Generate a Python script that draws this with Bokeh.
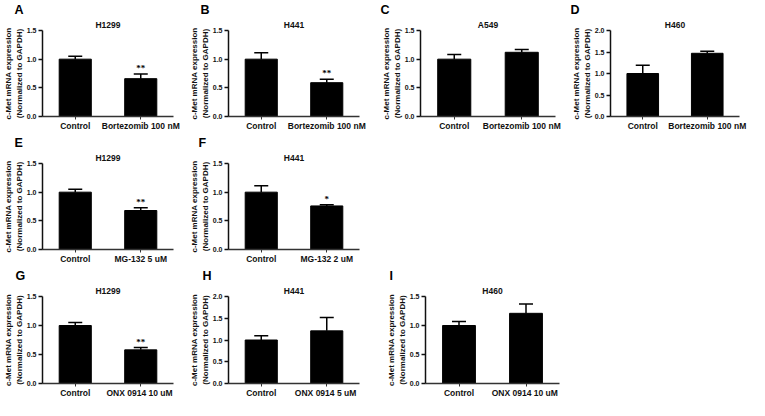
from bokeh.plotting import figure
from bokeh.layouts import column, row
from bokeh.models import (Range1d, FixedTicker, PrintfTickFormatter,
                          ColumnDataSource, Whisker, TeeHead, Title, LabelSet)
from bokeh.embed import file_html
from bokeh.resources import INLINE

# ---------------- data ----------------
panel_letters = ["A", "B", "C", "D", "E", "F", "G", "H", "I"]
cell_lines = ["H1299", "H441", "A549", "H460", "H1299", "H441", "H1299", "H441", "H460"]
control_label = "Control"
treatments = ["Bortezomib 100 nM", "Bortezomib 100 nM", "Bortezomib 100 nM", "Bortezomib 100 nM",
              "MG-132 5 uM", "MG-132 2 uM", "ONX 0914  10 uM", "ONX 0914  5 uM", "ONX 0914  10 uM"]
control_mean = [1.0, 1.0, 1.0, 1.0, 1.0, 1.0, 1.0, 1.0, 1.0]
control_err = [0.05, 0.11, 0.08, 0.19, 0.05, 0.11, 0.05, 0.10, 0.07]
treat_mean = [0.66, 0.59, 1.12, 1.47, 0.68, 0.76, 0.58, 1.21, 1.21]
treat_err = [0.08, 0.06, 0.05, 0.05, 0.05, 0.02, 0.04, 0.31, 0.16]
significance = ["**", "**", "", "", "**", "*", "**", "", ""]
y_max = [1.5, 1.5, 1.5, 2.0, 1.5, 1.5, 1.5, 2.0, 1.5]
y_ticks_15 = [0.0, 0.5, 1.0, 1.5]
y_ticks_20 = [0.0, 0.5, 1.0, 1.5, 2.0]
y_label = "c-Met mRNA expression\n(Normalized to GAPDH)"

# ---------------- layout (pixels) ----------------
# width, height, border right
geom = [
    (186, 133, 13), (192, 133, 19), (190, 133, 13), (181, 133, 10),
    (186, 133, 13), (192, 133, 19),
    (186, 134, 13), (197, 134, 24), (190, 134, 14),
]
letter_dx = [-28, -28, -40, -40, -28, -30, -27, -26, -36]

FONT = "Liberation Sans"


def make_panel(i):
    w, h, br = geom[i]
    names = [control_label, treatments[i]]
    # categories sit at the centres of unit-wide slots
    xs = [k + 0.5 for k in range(len(names))]
    p = figure(x_range=Range1d(0, len(names)), y_range=Range1d(0, y_max[i]),
               width=w, height=h, min_border_left=0, min_border_right=br,
               min_border_top=0, min_border_bottom=0,
               output_backend="svg", toolbar_location=None)
    p.outline_line_color = None
    p.xgrid.visible = False
    p.ygrid.visible = False
    p.background_fill_color = "white"
    p.border_fill_color = "white"

    # panel letter (outer title row) and cell line (title row next to the frame)
    p.title.text = panel_letters[i]
    p.title.align = "left"
    p.title.offset = letter_dx[i]
    p.title.standoff = 0
    p.title.text_font = FONT
    p.title.text_font_style = "bold"
    p.title.text_font_size = "12.5px"
    p.title.text_color = "black"
    p.add_layout(Title(text=cell_lines[i], align="center", standoff=2,
                       text_font=FONT, text_font_style="bold",
                       text_font_size="8.5px", text_color="#111111"), "above")

    src = ColumnDataSource(dict(
        x=xs,
        top=[control_mean[i], treat_mean[i]],
        upper=[control_mean[i] + control_err[i], treat_mean[i] + treat_err[i]],
    ))
    p.vbar(x="x", top="top", bottom=0, width=0.49, source=src,
           fill_color="black", line_color="black", line_width=1)
    wh = Whisker(source=src, base="x", lower="top", upper="upper", dimension="height",
                 line_color="black", line_width=1.5,
                 upper_head=TeeHead(size=14, line_color="black", line_width=1.5),
                 lower_head=None)
    p.add_layout(wh)

    if significance[i]:
        ssrc = ColumnDataSource(dict(x=[xs[1]],
                                     y=[treat_mean[i] + treat_err[i]],
                                     t=[significance[i]]))
        p.add_layout(LabelSet(x="x", y="y", text="t", source=ssrc, y_offset=1,
                              text_align="center", text_baseline="bottom",
                              text_font=FONT, text_font_style="bold",
                              text_font_size="9px", text_color="black"))

    # y axis
    ticks = y_ticks_20 if y_max[i] == 2.0 else y_ticks_15
    p.yaxis.ticker = FixedTicker(ticks=ticks)
    p.yaxis.formatter = PrintfTickFormatter(format="%.1f")
    p.yaxis.minor_tick_line_color = None
    p.yaxis.major_tick_out = 4
    p.yaxis.major_tick_in = 0
    p.yaxis.major_tick_line_width = 1.5
    p.yaxis.axis_line_width = 1.5
    p.yaxis.axis_line_color = "#111111"
    p.yaxis.major_tick_line_color = "#111111"
    p.yaxis.major_label_text_font = FONT
    p.yaxis.major_label_text_font_style = "bold"
    p.yaxis.major_label_text_font_size = "7px"
    p.yaxis.major_label_text_color = "#111111"
    p.yaxis.major_label_standoff = 2
    p.yaxis.axis_label = y_label
    p.yaxis.axis_label_text_font = FONT
    p.yaxis.axis_label_text_font_style = "bold"
    p.yaxis.axis_label_text_font_size = "8px"
    p.yaxis.axis_label_text_color = "#111111"
    p.yaxis.axis_label_standoff = 0
    p.yaxis.axis_label_text_line_height = 1.2

    # x axis (category names as tick labels)
    p.xaxis.ticker = FixedTicker(ticks=xs, minor_ticks=[])
    p.xaxis.major_label_overrides = {x: n for x, n in zip(xs, names)}
    p.xaxis.axis_label = None
    p.xaxis.axis_line_width = 1.5
    p.xaxis.axis_line_color = "#333333"
    p.xaxis.major_tick_line_color = "#333333"
    p.xaxis.major_tick_line_width = 1
    p.xaxis.major_tick_out = 3
    p.xaxis.major_tick_in = 0
    p.xaxis.minor_tick_line_color = None
    p.xaxis.major_label_text_font = FONT
    p.xaxis.major_label_text_font_style = "bold"
    p.xaxis.major_label_text_font_size = "8.5px"
    p.xaxis.major_label_text_color = "#111111"
    p.xaxis.major_label_text_line_height = 0.7
    p.xaxis.major_label_standoff = 1
    return p


panels = [make_panel(i) for i in range(9)]
layout = column(row(*panels[0:4]), row(*panels[4:6]), row(*panels[6:9]))

open("out.html", "w").write(file_html(layout, INLINE))
